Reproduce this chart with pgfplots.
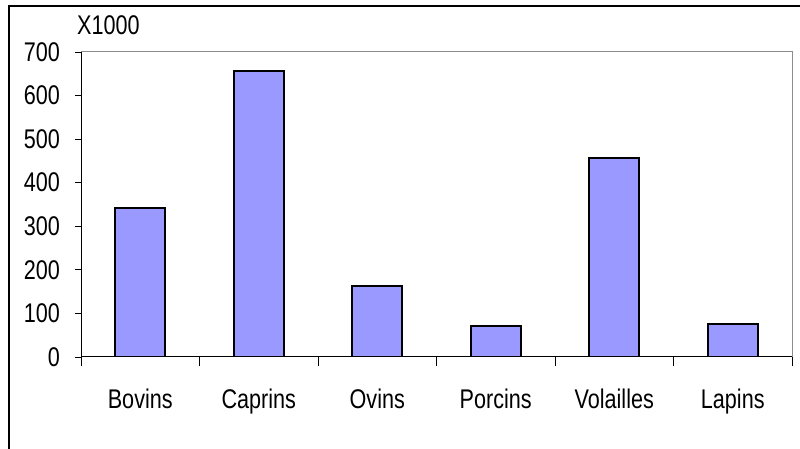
\documentclass[border=0pt]{standalone}
\usepackage{pgfplots}
\pgfplotsset{compat=1.18}
\usepackage{fontspec}
\setmainfont{Liberation Sans}[FakeStretch=0.8]
\definecolor{barblue}{HTML}{9999FF}
\begin{document}
\fontsize{27bp}{30bp}\selectfont
\begin{tikzpicture}[x=1bp,y=1bp]
\useasboundingbox (0,0) rectangle (800,449);
\fill[white] (0,0) rectangle (800,449);
\draw[black, line width=1.2bp] (9,0) -- (9,443) -- (800,443);
\begin{axis}[
  at={(81bp,92bp)}, anchor=south west,
  scale only axis, width=711bp, height=305bp,
  xmin=-0.5, xmax=5.5, ymin=0, ymax=700,
  ytick={0,100,...,700},
  xtick={0,...,5},
  xticklabels={Bovins,Caprins,Ovins,Porcins,Volailles,Lapins},
  minor xtick={-0.5,0.5,...,5.5},
  tick pos=left,
  tick align=outside,
  major tick length=6bp,
  minor tick length=9bp,
  xtick style={draw=none},
  minor x tick style={draw=black, line width=0.8bp},
  ytick style={black, line width=0.8bp},
  axis line style={draw=gray!90, line width=1bp},
  /pgf/number format/assume math mode=true,
  ticklabel style={font=\fontsize{27bp}{30bp}\selectfont},
  xticklabel style={anchor=base, yshift=-46bp},
  yticklabel style={xshift=-6bp},
  ybar, bar width=50bp,
  after end axis/.code={
    \draw[black, line width=1bp] (rel axis cs:0,0) -- (rel axis cs:0,1);
    \draw[black, line width=1bp] (rel axis cs:0,0) -- (rel axis cs:1,0);
  },
]
\addplot[fill=barblue, draw=black, line width=1.7bp] coordinates {(0,342) (1,656) (2,163) (3,71) (4,456) (5,76)};
\end{axis}
\node[anchor=base west, inner sep=0pt] at (77,414) {X1000};
\end{tikzpicture}
\end{document}
